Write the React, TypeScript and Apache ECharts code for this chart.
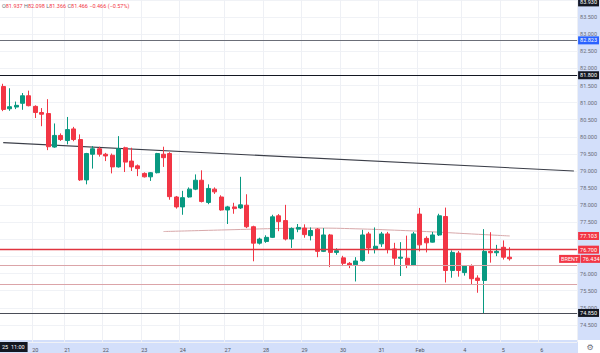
import React, { useEffect, useRef } from 'react';
import * as echarts from 'echarts';

// ---- data (4h candles) ----
const opens = [81.47, 80.82, 80.87, 80.98, 81.20, 80.89, 80.71, 80.68, 79.70, 80.04,
  79.89, 80.23, 79.92, 78.74, 79.49, 79.65, 79.49, 79.46, 79.12, 79.68,
  79.29, 79.15, 78.93, 78.83, 78.95, 79.49, 79.51, 78.24, 77.95, 78.24,
  78.47, 78.73, 78.08, 78.47, 78.24, 77.86, 77.95, 77.92, 78.00, 77.37,
  76.89, 76.94, 77.06, 77.69, 77.55, 77.01, 77.30, 77.33, 77.11, 77.30,
  76.65, 77.13, 76.62, 76.46, 76.30, 76.26, 76.38, 77.16, 76.72, 76.87,
  77.16, 76.72, 76.45, 76.45, 76.24, 77.74, 77.03, 76.92, 77.13, 77.67,
  76.09, 76.60, 76.03, 76.22, 75.87, 75.80, 76.65, 76.61, 76.77, 76.48];
const closes = [80.80, 80.88, 80.92, 81.20, 80.91, 80.71, 80.66, 79.71, 80.04, 79.92,
  80.21, 79.92, 78.74, 79.51, 79.65, 79.49, 79.44, 79.12, 79.65, 79.26,
  79.12, 79.07, 78.83, 78.95, 79.51, 79.39, 78.25, 77.95, 78.22, 78.47,
  78.73, 78.11, 78.49, 78.39, 77.86, 77.95, 77.90, 78.01, 77.37, 76.89,
  77.01, 77.06, 77.66, 77.52, 77.01, 77.32, 77.35, 77.14, 77.26, 76.65,
  77.13, 76.62, 76.67, 76.30, 76.24, 76.37, 77.13, 76.75, 76.80, 77.16,
  76.72, 76.45, 76.48, 76.26, 77.16, 76.84, 76.90, 77.13, 77.69, 76.09,
  76.62, 76.09, 76.22, 75.85, 75.80, 76.65, 76.61, 76.65, 76.48, 76.434];
const lows = [80.75, 80.76, 80.81, 80.79, 80.89, 80.55, 80.31, 79.61, 79.68, 79.88,
  79.78, 79.87, 78.71, 78.61, 79.07, 79.42, 79.29, 78.93, 79.10, 78.97,
  79.00, 78.85, 78.81, 78.71, 78.93, 79.12, 78.16, 77.90, 77.72, 78.22,
  78.44, 78.08, 78.03, 78.33, 77.84, 77.45, 77.75, 77.89, 77.33, 76.36,
  76.85, 76.90, 77.04, 77.24, 76.97, 76.75, 77.21, 77.05, 76.97, 76.48,
  76.63, 76.19, 76.55, 76.22, 76.16, 75.77, 76.35, 76.58, 76.59, 76.78,
  76.59, 76.22, 75.93, 76.16, 76.22, 76.65, 76.62, 76.91, 77.10, 75.74,
  75.88, 75.91, 75.94, 75.68, 75.44, 74.82, 76.32, 76.51, 76.41, 76.38];
const highs = [81.55, 81.42, 81.03, 81.28, 81.35, 80.92, 80.84, 81.10, 80.39, 80.10,
  80.58, 80.29, 80.07, 79.53, 79.73, 79.71, 79.53, 79.51, 80.02, 79.71,
  79.68, 79.19, 78.96, 78.97, 79.53, 79.71, 79.55, 78.27, 78.42, 78.52,
  78.90, 79.02, 78.61, 78.52, 78.29, 77.98, 78.07, 78.83, 78.32, 77.40,
  77.05, 77.12, 77.72, 77.74, 78.01, 77.35, 77.45, 77.44, 77.35, 77.33,
  77.33, 77.16, 76.74, 76.52, 76.34, 76.48, 77.28, 77.22, 77.35, 77.22,
  77.22, 76.90, 76.92, 77.11, 77.22, 77.92, 77.09, 77.22, 77.75, 77.93,
  76.68, 76.66, 76.25, 76.27, 75.95, 77.30, 77.21, 76.84, 76.97, 76.77];

const slotCount = 90;
const dayLabels = ['20', '21', '22', '23', '24', '27', '28', '29', '30', '31', 'Feb', '4', '5', '6'];
const dayStartIdx = [5, 10, 16, 22, 28, 35, 41, 47, 53, 59, 65, 72, 78, 84];

// moving average
const maIdx = [25, 31, 37, 43, 49, 55, 61, 67, 73, 79];
const maVals = [77.23, 77.26, 77.29, 77.32, 77.33, 77.31, 77.27, 77.22, 77.16, 77.10];

// descending trend line
const trendIdx = [0, 89];
const trendVals = [79.83, 79.0];

// horizontal levels and price tags
const levelValues = [83.93, 82.823, 81.8, 77.103, 76.7, 76.434, 76.23, 75.68, 74.85];
const levelNames = ['', '', '', '', '', 'BRENT', '', '', ''];

// header
const headerKeys = ['O', 'H', 'L', 'C'];
const headerVals = ['81.937', '82.098', '81.366', '81.466'];
const headerChange = '\u22120.466 (\u22120.57%)';
const crosshairLabel = "25  11:00";

const UP = '#089981';
const DOWN = '#f23645';
const FONT = 'Roboto, "Liberation Sans", sans-serif';
const AXIS_BG = '#d3dffa';

// style per level (same order as levelValues)
const levelStyles = [
  { line: 'rgba(0,0,0,0)', tag: '#131722', width: 1 },
  { line: '#6b6e78', tag: '#2962ff', width: 1 },
  { line: '#131722', tag: '#131722', width: 1 },
  { line: 'rgba(0,0,0,0)', tag: DOWN, width: 1 },
  { line: '#e0343f', tag: DOWN, width: 1.4 },
  { line: 'rgba(0,0,0,0)', tag: DOWN, width: 1 },
  { line: '#dba4a8', tag: null, width: 1 },
  { line: '#dba4a8', tag: null, width: 1 },
  { line: '#4a4d57', tag: '#131722', width: 1 },
];

const taggedValues = levelValues.filter((_, i) => levelStyles[i].tag);

export default function App() {
  const ref = useRef<HTMLDivElement>(null);

  useEffect(() => {
    const chart = echarts.init(ref.current!, null, { renderer: 'svg' });

    const cats = Array.from({ length: slotCount }, (_, i) => {
      const k = dayStartIdx.indexOf(i);
      return k >= 0 ? dayLabels[k] : '';
    });
    const candles = opens.map((o, i) => [o, closes[i], lows[i], highs[i]]);
    const ma = cats.map((_, i) => {
      const k = maIdx.indexOf(i);
      return k >= 0 ? maVals[k] : null;
    });
    const trend = cats.map((_, i) => {
      const k = trendIdx.indexOf(i);
      return k >= 0 ? trendVals[k] : null;
    });

    const tagBox = { fontSize: 5.5, fontFamily: FONT, padding: [1, 2], color: '#fff' };

    const markData = levelValues.map((v, i) => {
      const st = levelStyles[i];
      const name = levelNames[i];
      const label: any = st.tag
        ? name
          ? {
              show: true,
              position: 'end',
              distance: 1,
              offset: [-19, 0],
              formatter: `{n|${name}} {v|${v.toFixed(3)}}`,
              rich: {
                n: { ...tagBox, backgroundColor: st.tag },
                v: { ...tagBox, backgroundColor: st.tag },
              },
              fontSize: 2,
            }
          : {
              show: true,
              position: 'end',
              distance: 1,
              formatter: v.toFixed(3),
              backgroundColor: st.tag,
              ...tagBox,
            }
        : { show: false };
      return {
        yAxis: v,
        lineStyle: { color: st.line, width: st.width, type: 'solid', opacity: 1 },
        label,
      };
    });

    const headerRich: any = {
      k: { fill: '#6a6d78', fontSize: 5.5, fontFamily: FONT },
      v: { fill: DOWN, fontSize: 5.5, fontFamily: FONT },
    };
    const headerText =
      headerKeys.map((k, i) => `{k|${k}}{v|${headerVals[i]}}`).join('{k| }') + `{k| }{v|${headerChange}}`;

    chart.setOption({
      animation: false,
      backgroundColor: '#ffffff',
      grid: { left: 0, right: 22, top: -2, height: 344, containLabel: false },
      xAxis: {
        type: 'category',
        data: cats,
        boundaryGap: true,
        axisLine: { show: false },
        axisTick: { show: false },
        axisLabel: {
          interval: (i: number, v: string) => v !== '',
          color: '#50535e',
          fontSize: 5.5,
          fontFamily: FONT,
          margin: 5,
        },
        splitLine: {
          show: true,
          interval: (i: number, v: string) => v !== '',
          lineStyle: { color: '#eef0f5', width: 1 },
        },
      },
      yAxis: {
        type: 'value',
        position: 'right',
        min: 74,
        max: 84,
        interval: 0.5,
        scale: true,
        axisLine: { show: false },
        axisTick: { show: false },
        axisLabel: {
          color: '#6a6d78',
          fontSize: 5.5,
          fontFamily: FONT,
          margin: 3,
          showMinLabel: false,
          showMaxLabel: false,
          formatter: (v: number) =>
            taggedValues.some((t) => Math.abs(t - v) < 0.12) ? '' : v.toFixed(3),
        },
        splitLine: { show: true, lineStyle: { color: '#f0f2f6', width: 1 } },
      },
      graphic: [
        { type: 'rect', z: -10, shape: { x: 578, y: 0, width: 22, height: 340 }, style: { fill: AXIS_BG } },
        { type: 'rect', z: -10, shape: { x: 0, y: 340, width: 578, height: 13 }, style: { fill: AXIS_BG } },
        {
          type: 'text',
          z: 10,
          x: 2,
          y: 6,
          style: { text: headerText, rich: headerRich, verticalAlign: 'middle', fontSize: 5.5, fontFamily: FONT },
        },
        {
          type: 'text',
          z: 10,
          x: 0,
          y: 347,
          style: {
            text: crosshairLabel,
            fill: '#ffffff',
            backgroundColor: '#131722',
            padding: [2, 3, 2, 2],
            fontSize: 5.5,
            fontFamily: FONT,
            verticalAlign: 'middle',
          },
        },
        {
          type: 'text',
          z: 10,
          x: 590,
          y: 347,
          style: { text: '\u2699', fill: '#6a6d78', fontSize: 8, align: 'center', verticalAlign: 'middle', fontFamily: '"DejaVu Sans"' },
        },
      ],
      series: [
        {
          type: 'line',
          data: trend,
          connectNulls: true,
          symbol: 'none',
          lineStyle: { color: '#3b3e48', width: 1.1 },
          silent: true,
          z: 1,
        },
        {
          type: 'line',
          data: ma,
          connectNulls: true,
          symbol: 'none',
          smooth: true,
          lineStyle: { color: '#d8a8aa', width: 1 },
          silent: true,
          z: 1,
        },
        {
          type: 'candlestick',
          data: candles,
          barWidth: 4.5,
          z: 3,
          itemStyle: {
            color: UP,
            color0: DOWN,
            borderColor: UP,
            borderColor0: DOWN,
            borderWidth: 1,
          },
          markLine: {
            silent: true,
            symbol: ['none', 'none'],
            animation: false,
            data: markData,
          },
        },
      ],
    });

    return () => chart.dispose();
  }, []);

  return (
    <div
      ref={ref}
      style={{ position: 'fixed', left: 0, top: 0, width: 600, height: 353, background: '#fff' }}
    />
  );
}
